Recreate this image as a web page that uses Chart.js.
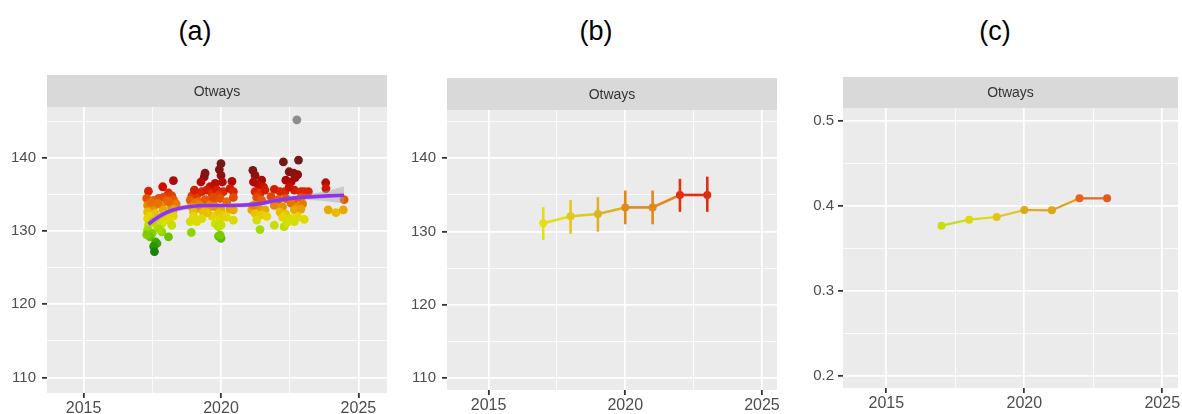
<!DOCTYPE html>
<html><head><meta charset="utf-8">
<script src="https://cdn.jsdelivr.net/npm/chart.js@4.4.1/dist/chart.umd.min.js"></script>
<style>
html,body{margin:0;padding:0;background:#fff;width:1182px;height:414px;overflow:hidden;position:relative;}
canvas{position:absolute;}
.ttl{position:absolute;top:17px;line-height:28px;font-family:'Liberation Sans',Arial,sans-serif;font-size:27px;color:#000;transform:translateX(-50%);white-space:nowrap;}
</style></head>
<body>
<div class="ttl" style="left:195px">(a)</div>
<div class="ttl" style="left:596px">(b)</div>
<div class="ttl" style="left:995px">(c)</div>
<canvas id="ca" width="400" height="354" style="left:0px;top:60px;width:400px;height:354px"></canvas>
<canvas id="cb" width="400" height="354" style="left:400px;top:60px;width:400px;height:354px"></canvas>
<canvas id="cc" width="392" height="354" style="left:790px;top:60px;width:392px;height:354px"></canvas>
<script>
// ---------------- DATA ----------------
const facetLabel = 'Otways';
const panelTitles = ['(a)', '(b)', '(c)'];

// x ticks (years)
const xMajorTicks = [2015, 2020, 2025];
const xTickLabels = ['2015', '2020', '2025'];
const xMinorTicks = [2017.5, 2022.5];

// y ticks panels a & b
const yMajorTicksAB = [110, 120, 130, 140];
const yTickLabelsAB = ['110', '120', '130', '140'];
const yMinorTicksAB = [115, 125, 135, 145];

// y ticks panel c
const yMajorTicksC = [0.2, 0.3, 0.4, 0.5];
const yTickLabelsC = ['0.2', '0.3', '0.4', '0.5'];
const yMinorTicksC = [0.25, 0.35, 0.45];

// panel (a): individual observations
const scatterYear = [
 2017.36,2017.88,2018.27,2018.09,2018.21,2017.30,2017.55,2017.73,2017.90,2018.03,2018.27,2017.33,2017.55,2017.85,2018.20,2018.37,
 2017.33,2017.60,2017.90,2018.25,2018.27,2017.33,2017.50,2017.80,2018.03,2018.27,2017.36,2017.67,2017.85,2018.21,2017.33,2017.50,
 2017.42,2017.85,2018.09,2017.62,2017.67,2017.55,2017.58,2017.45,2017.70,2018.10,2017.40,2017.95,2018.15,2017.75,2017.30,
 2019.39,2019.42,2019.27,2019.60,2020.00,2019.94,2020.00,2020.05,2020.40,2019.79,
 2018.94,2019.12,2019.30,2019.48,2019.67,2019.85,2020.09,2020.33,2020.45,2019.03,2019.91,
 2018.88,2019.18,2019.42,2019.73,2019.97,2020.21,2020.45,2019.06,2019.60,
 2018.94,2019.24,2019.55,2019.79,2020.00,2020.33,2019.00,2019.36,2019.91,2020.45,
 2019.00,2019.30,2019.67,2019.97,2020.12,2020.45,2018.88,2019.12,
 2019.79,2019.91,2020.00,2018.92,2019.91,2020.00,2019.97,2019.50,2019.20,2020.20,2019.70,
 2021.16,2021.24,2021.48,2021.36,2021.18,2021.55,2021.24,2021.42,2021.60,2021.30,2021.48,2021.12,2021.36,2021.60,2021.24,2021.48,
 2021.30,2021.42,2021.67,2021.18,
 2021.94,2022.27,2022.82,2022.48,2022.64,2022.79,2022.36,2022.55,2022.67,2022.33,2022.91,2023.03,2022.15,2022.48,2021.82,2022.09,
 2022.36,2022.67,2022.91,2021.94,2022.24,2022.55,2022.79,2022.97,2022.15,2022.36,2022.67,2022.91,2022.24,2022.55,2022.79,2023.03,
 2021.94,2022.30,2022.67,2022.39,2022.76,2023.18,2022.70,
 2023.81,2023.82,2023.90,2024.18,2024.45,2024.48
];
const scatterValue = [
 135.45,136.05,136.9,135.2,134.8,134.45,134.2,134.45,134.6,134.2,134.3,133.5,133.3,133.5,133.3,133.7,
 132.6,132.4,132.9,132.6,133.0,131.7,131.5,131.7,131.5,132.05,130.8,130.7,131.0,130.8,130.1,129.7,
 129.2,129.9,129.2,128.5,128.3,127.9,127.2,133.9,133.8,134.0,132.0,132.2,131.9,130.3,129.5,
 137.4,137.9,136.7,136.05,139.2,138.4,137.6,136.7,136.8,136.5,
 134.8,134.9,135.4,135.6,135.1,135.6,135.4,135.8,135.4,135.6,134.9,
 134.2,134.0,134.3,134.2,134.45,134.0,134.6,133.8,133.6,
 133.3,133.1,133.2,133.3,132.9,133.0,132.6,132.6,132.4,132.9,
 132.0,131.7,132.05,131.7,132.2,131.5,131.3,131.3,
 131.0,130.6,130.8,129.8,129.3,129.0,129.45,132.5,133.6,131.9,134.6,
 138.3,137.6,136.95,136.3,136.7,136.0,135.4,135.1,135.6,134.6,134.2,132.9,133.2,132.9,132.4,132.2,
 131.5,130.2,132.0,133.5,
 135.7,139.45,139.7,138.1,137.9,137.7,136.95,136.7,135.6,135.4,135.4,135.4,135.4,136.0,134.7,134.3,
 134.45,134.2,134.6,133.5,133.3,133.8,133.3,133.7,132.6,132.3,132.9,133.0,131.9,131.7,131.95,131.6,
 130.8,130.6,131.3,131.1,145.2,135.4,137.3,
 136.6,135.8,132.9,132.5,132.9,134.3
];

// panel (a): smoothed trend and its confidence band
const smoothYear  = [2017.36,2017.6,2017.9,2018.2,2018.5,2018.9,2019.4,2019.9,2020.4,2020.9,2021.4,2021.9,2022.4,2022.9,2023.4,2023.9,2024.48];
const smoothValue = [130.95,131.6,132.3,132.8,133.1,133.35,133.5,133.5,133.5,133.55,133.75,134.1,134.4,134.6,134.7,134.8,134.9];
const smoothLower = [130.3,131.05,131.85,132.4,132.75,133.0,133.2,133.2,133.2,133.25,133.45,133.8,134.1,134.25,134.2,134.05,133.8];
const smoothUpper = [131.6,132.15,132.75,133.2,133.45,133.7,133.8,133.8,133.8,133.85,134.05,134.4,134.7,134.95,135.2,135.55,136.1];

// panel (b): yearly mean with interval
const yearsB = [2017, 2018, 2019, 2020, 2021, 2022, 2023];
const meanB  = [131.15, 132.1, 132.4, 133.3, 133.3, 135.0, 135.0];
const lowB   = [128.85, 129.7, 130.0, 131.0, 131.0, 132.7, 132.7];
const highB  = [133.35, 134.3, 134.7, 135.6, 135.6, 137.2, 137.5];

// panel (c): yearly proportion
const yearsC = [2017, 2018, 2019, 2020, 2021, 2022, 2023];
const valC   = [0.3765, 0.3835, 0.3867, 0.3949, 0.3945, 0.4086, 0.4086];

// ---------------- STYLE ----------------
const FONT = "'Liberation Sans', Arial, sans-serif";
const colorsB = ['#e4df12','#e0c81c','#dcb422','#e08a1a','#e0881a','#e0300e','#e02c10'];
const colorsC = ['#c6df10','#dcd90e','#e0c80e','#e0a816','#e0a418','#e6641a','#e05a1a'];
const stopsA = [
 [127.0,[26,122,16]],[128.0,[42,154,0]],[129.0,[92,192,0]],[130.0,[156,216,0]],[131.0,[208,224,0]],
 [132.0,[230,214,0]],[132.6,[232,186,0]],[133.2,[232,152,0]],[134.0,[232,104,0]],[135.0,[224,52,0]],
 [136.0,[206,16,0]],[137.0,[168,8,8]],[138.0,[128,20,20]],[139.6,[112,26,26]]
];
function colourA(v){
  if (v > 141) return '#8c8c8c';
  if (v <= stopsA[0][0]) return 'rgb(' + stopsA[0][1].join(',') + ')';
  for (let i = 1; i < stopsA.length; i++){
    if (v <= stopsA[i][0]){
      const [v0,c0] = stopsA[i-1], [v1,c1] = stopsA[i];
      const t = (v - v0) / (v1 - v0);
      return 'rgb(' + c0.map((c,k)=>Math.round(c + (c1[k]-c)*t)).join(',') + ')';
    }
  }
  return 'rgb(' + stopsA[stopsA.length-1][1].join(',') + ')';
}

const facetPlugin = {
  id: 'facet',
  beforeDraw(chart, args, opts){
    const a = chart.chartArea, c = chart.ctx;
    c.save();
    c.fillStyle = '#EBEBEB';
    c.fillRect(a.left, a.top, a.right - a.left, a.bottom - a.top);
    c.fillStyle = '#D9D9D9';
    c.fillRect(a.left, a.top - opts.h, a.right - a.left, opts.h);
    c.fillStyle = '#333333';
    c.font = '14px ' + FONT;
    c.textAlign = 'center';
    c.textBaseline = 'middle';
    c.fillText(opts.text, (a.left + a.right) / 2, a.top - opts.h / 2 + 1);
    c.restore();
  }
};

const errorBarPlugin = {
  id: 'errbars',
  beforeDatasetsDraw(chart){
    const {ctx, scales: {x, y}} = chart;
    ctx.save();
    ctx.lineWidth = 2.6;
    ctx.lineCap = 'butt';
    for (let i = 0; i < yearsB.length; i++){
      const px = x.getPixelForValue(yearsB[i]);
      ctx.strokeStyle = colorsB[i];
      ctx.beginPath();
      ctx.moveTo(px, y.getPixelForValue(lowB[i]));
      ctx.lineTo(px, y.getPixelForValue(highB[i]));
      ctx.stroke();
    }
    ctx.restore();
  }
};

function near(v, arr){ return arr.findIndex(m => Math.abs(m - v) < 1e-9); }

function makeScales(o){
  const gridFor = (major) => ({
    color: '#FFFFFF',
    lineWidth: c => (c.tick && near(c.tick.value, major) >= 0) ? 1.7 : 0.8,
    tickColor: c => (c.tick && near(c.tick.value, major) >= 0) ? '#333333' : 'rgba(0,0,0,0)',
    tickLength: 5,
    tickWidth: 1.8,
    drawTicks: true
  });
  return {
    x: {
      type: 'linear', min: o.xmin, max: o.xmax,
      afterBuildTicks: s => { s.ticks = [...xMajorTicks, ...xMinorTicks].sort((a,b)=>a-b).map(v => ({value: v})); },
      afterFit: s => { s.height = o.xh; },
      grid: gridFor(xMajorTicks),
      border: {display: false},
      ticks: {
        autoSkip: false, maxRotation: 0, padding: 1, color: '#4D4D4D',
        font: {family: FONT, size: 16},
        callback: v => { const i = near(v, xMajorTicks); return i >= 0 ? xTickLabels[i] : ''; }
      }
    },
    y: {
      type: 'linear', min: o.ymin, max: o.ymax,
      afterBuildTicks: s => { s.ticks = [...o.yMajor, ...o.yMinor].sort((a,b)=>a-b).map(v => ({value: v})); },
      afterFit: s => { s.width = o.yw; },
      grid: gridFor(o.yMajor),
      border: {display: false},
      ticks: {
        autoSkip: false, padding: o.ypad, color: '#4D4D4D',
        font: {family: FONT, size: 15},
        callback: v => { const i = near(v, o.yMajor); return i >= 0 ? o.yLabels[i] : ''; }
      }
    }
  };
}

const common = {
  responsive: false, animation: false, events: [],
  plugins: {legend: {display: false}, tooltip: {enabled: false}, facet: {h: 32, text: facetLabel}}
};

// ---------------- PANEL A ----------------
new Chart(document.getElementById('ca'), {
  type: 'scatter',
  data: {
    datasets: [
      {
        type: 'scatter', order: 3,
        data: scatterYear.map((x, i) => ({x, y: scatterValue[i]})),
        pointRadius: 4.4, borderWidth: 0,
        pointBackgroundColor: c => colourA(c.raw ? c.raw.y : 133),
        pointBorderColor: 'rgba(0,0,0,0)'
      },
      {
        type: 'line', order: 2,
        data: smoothYear.map((x, i) => ({x, y: smoothUpper[i]})),
        borderWidth: 0, pointRadius: 0, tension: 0.4,
        borderColor: 'rgba(0,0,0,0)',
        backgroundColor: 'rgba(160,160,160,0.45)', fill: '+1'
      },
      {
        type: 'line', order: 2,
        data: smoothYear.map((x, i) => ({x, y: smoothLower[i]})),
        borderWidth: 0, pointRadius: 0, tension: 0.4,
        borderColor: 'rgba(0,0,0,0)', fill: false
      },
      {
        type: 'line', order: 0,
        data: smoothYear.map((x, i) => ({x, y: smoothValue[i]})),
        borderColor: '#9232EC', borderWidth: 3.6, pointRadius: 0,
        cubicInterpolationMode: 'monotone', fill: false
      }
    ]
  },
  options: Object.assign({}, common, {
    layout: {padding: {top: 47, right: 13, left: 0, bottom: 0}},
    scales: makeScales({xmin: 2013.67, xmax: 2026.04, ymin: 107.87, ymax: 146.95, xh: 21, yw: 47, ypad: 6,
      yMajor: yMajorTicksAB, yMinor: yMinorTicksAB, yLabels: yTickLabelsAB})
  }),
  plugins: [facetPlugin]
});

// ---------------- PANEL B ----------------
new Chart(document.getElementById('cb'), {
  type: 'line',
  data: {
    datasets: [{
      data: yearsB.map((x, i) => ({x, y: meanB[i]})),
      borderWidth: 2.6, pointRadius: 4, pointBorderWidth: 0,
      pointBackgroundColor: colorsB, pointBorderColor: colorsB,
      borderColor: colorsB[0],
      segment: {borderColor: c => colorsB[c.p0DataIndex]},
      fill: false, tension: 0
    }]
  },
  options: Object.assign({}, common, {
    layout: {padding: {top: 50, right: 23, left: 0, bottom: 0}},
    scales: makeScales({xmin: 2013.48, xmax: 2025.55, ymin: 108.4, ymax: 146.59, xh: 24, yw: 47, ypad: 6,
      yMajor: yMajorTicksAB, yMinor: yMinorTicksAB, yLabels: yTickLabelsAB})
  }),
  plugins: [facetPlugin, errorBarPlugin]
});

// ---------------- PANEL C ----------------
new Chart(document.getElementById('cc'), {
  type: 'line',
  data: {
    datasets: [{
      data: yearsC.map((x, i) => ({x, y: valC[i]})),
      borderWidth: 2.2, pointRadius: 4, pointBorderWidth: 0,
      pointBackgroundColor: colorsC, pointBorderColor: colorsC,
      borderColor: colorsC[0],
      segment: {borderColor: c => colorsC[c.p0DataIndex]},
      fill: false, tension: 0
    }]
  },
  options: Object.assign({}, common, {
    plugins: {legend: {display: false}, tooltip: {enabled: false}, facet: {h: 31, text: facetLabel}},
    layout: {padding: {top: 48, right: 4, left: 0, bottom: 0}},
    scales: makeScales({xmin: 2013.43, xmax: 2025.57, ymin: 0.1855, ymax: 0.5149, xh: 26, yw: 53, ypad: 4,
      yMajor: yMajorTicksC, yMinor: yMinorTicksC, yLabels: yTickLabelsC})
  }),
  plugins: [facetPlugin]
});
</script>
</body></html>
